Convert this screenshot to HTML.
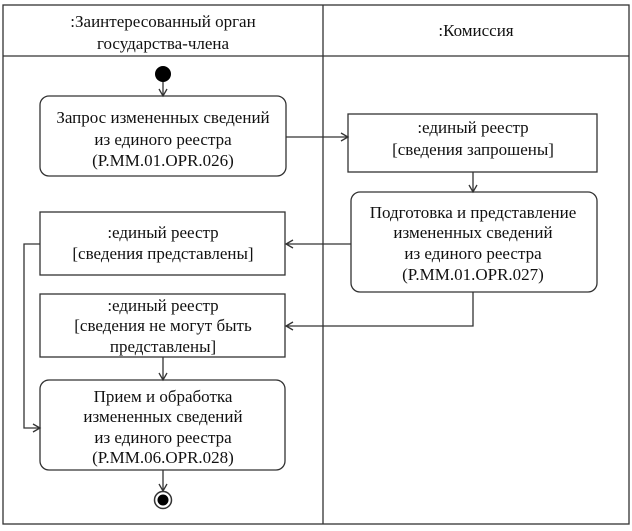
<!DOCTYPE html>
<html><head><meta charset="utf-8"><style>
html,body{margin:0;padding:0;background:#fff;}
svg{display:block;}
text{font-family:"Liberation Serif","Times New Roman","DejaVu Serif",serif;font-size:17px;fill:#111;text-anchor:middle;}
</style></head><body>
<svg width="632" height="531" viewBox="0 0 632 531" xmlns="http://www.w3.org/2000/svg">
<g fill="none" stroke="#333" stroke-width="1.3">
<rect x="3" y="5" width="626" height="519"/>
<line x1="3" y1="56" x2="629" y2="56"/>
<line x1="323" y1="5" x2="323" y2="524"/>
<rect x="40" y="96" width="246" height="80" rx="9"/>
<rect x="348" y="114" width="249" height="58"/>
<rect x="351" y="192" width="246" height="100" rx="9"/>
<rect x="40" y="212" width="245" height="63"/>
<rect x="40" y="294" width="245" height="63"/>
<rect x="40" y="380" width="245" height="90" rx="9"/>
<line x1="163" y1="82" x2="163" y2="96"/><polyline points="159,89 163,96 167,89"/>
<line x1="286" y1="137" x2="348" y2="137"/><polyline points="341,133 348,137 341,141"/>
<line x1="473" y1="172" x2="473" y2="192"/><polyline points="469,185 473,192 477,185"/>
<line x1="351" y1="244" x2="286" y2="244"/><polyline points="293,240 286,244 293,248"/>
<polyline points="473,292 473,326 286,326"/><polyline points="293,322 286,326 293,330"/>
<line x1="163" y1="357" x2="163" y2="380"/><polyline points="159,373 163,380 167,373"/>
<polyline points="40,244 24,244 24,428 40,428"/><polyline points="33,424 40,428 33,432"/>
<line x1="163" y1="470" x2="163" y2="491"/><polyline points="159,484 163,491 167,484"/>
<circle cx="163" cy="500" r="8.5" stroke-width="1.5"/>
</g>
<circle cx="163" cy="74" r="8" fill="#000"/>
<circle cx="163" cy="500" r="5.5" fill="#000"/>
<text x="163" y="27">:Заинтересованный орган</text>
<text x="163" y="49">государства-члена</text>
<text x="476" y="36">:Комиссия</text>
<text x="163" y="123">Запрос измененных сведений</text>
<text x="163" y="145">из единого реестра</text>
<text x="163" y="166">(P.MM.01.OPR.026)</text>
<text x="473" y="133">:единый реестр</text>
<text x="473" y="155">[сведения запрошены]</text>
<text x="473" y="218">Подготовка и представление</text>
<text x="473" y="238">измененных сведений</text>
<text x="473" y="259">из единого реестра</text>
<text x="473" y="280">(P.MM.01.OPR.027)</text>
<text x="163" y="238">:единый реестр</text>
<text x="163" y="259">[сведения представлены]</text>
<text x="163" y="311">:единый реестр</text>
<text x="163" y="331">[сведения не могут быть</text>
<text x="163" y="352">представлены]</text>
<text x="163" y="402">Прием и обработка</text>
<text x="163" y="422">измененных сведений</text>
<text x="163" y="443">из единого реестра</text>
<text x="163" y="463">(P.MM.06.OPR.028)</text>
</svg>
</body></html>
